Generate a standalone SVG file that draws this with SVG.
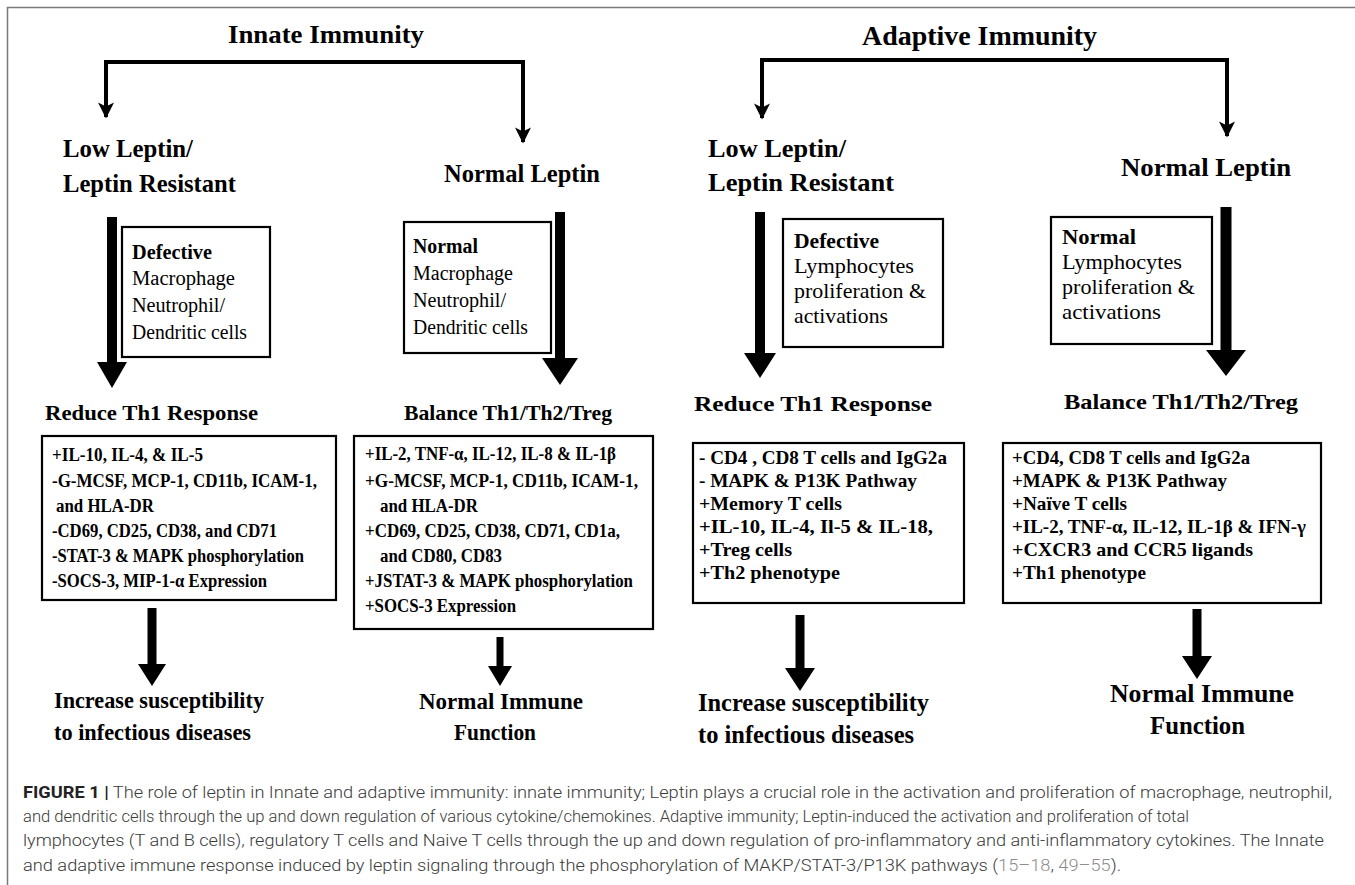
<svg xmlns="http://www.w3.org/2000/svg" width="1355" height="885" viewBox="0 0 1355 885">
<defs>
<style>
.t{font-family:"Liberation Serif","Times New Roman",serif;fill:#000}
.b{font-weight:bold}
.box{fill:#fff;stroke:#000;stroke-width:2.2}
.fat{fill:#000;stroke:none}
.ln{stroke:#000;stroke-width:4;fill:none}
.frame{stroke:#7a7a7a;stroke-width:1.5;fill:none}
.cap{font-family:Roboto,"Liberation Sans",Arial,sans-serif;font-size:16px;fill:#3a3a3a;font-weight:300}
.ref{fill:#8c8c8c}
</style>
<marker id="ah" viewBox="0 0 10 10" refX="9" refY="5" markerWidth="4.2" markerHeight="4" orient="auto">
<path d="M0,0 L10,5 L0,10 L2.5,5 z" fill="#000"/>
</marker>
</defs>
<rect x="0" y="0" width="1355" height="885" fill="#fff"/>
<path class="frame" d="M7.5,885 V7.5 H1355"/>

<g id="connectors">
<path class="ln" d="M106,62 H523" stroke-linecap="square"/>
<path class="ln" d="M106,62 V117" marker-end="url(#ah)"/>
<path class="ln" d="M523,62 V142" marker-end="url(#ah)"/>
<path class="ln" d="M762,60 H1227" stroke-linecap="square"/>
<path class="ln" d="M762,60 V118" marker-end="url(#ah)"/>
<path class="ln" d="M1227,60 V136" marker-end="url(#ah)"/>
<path class="fat" d="M107,217 H117 V362 H127 L112,388 L97,362 H107 Z"/>
<path class="fat" d="M555,212 H565 V358 H578 L560,385 L542,358 H555 Z"/>
<path class="fat" d="M147.5,608 H156.5 V664 H166 L152,686 L138,664 H147.5 Z"/>
<path class="fat" d="M496.5,637 H503.5 V666 H512 L500,686 L488,666 H496.5 Z"/>
<path class="fat" d="M755,212 H765 V353 H776 L760,378 L744,353 H755 Z"/>
<path class="fat" d="M1220.5,207 H1231.5 V350 H1246 L1226,376 L1206,350 H1220.5 Z"/>
<path class="fat" d="M795.5,615 H804.5 V668 H815 L800,691 L785,668 H795.5 Z"/>
<path class="fat" d="M1192.5,609 H1201.5 V656 H1212 L1197,679 L1182,656 H1192.5 Z"/>
</g>

<g id="innate-title"><text class="t b" font-size="26" x="228" y="43" textLength="196" lengthAdjust="spacingAndGlyphs">Innate Immunity</text></g>
<g id="innate-low"><text class="t b" font-size="26" x="63" y="157" textLength="130" lengthAdjust="spacingAndGlyphs">Low Leptin/</text><text class="t b" font-size="26" x="63" y="192" textLength="173" lengthAdjust="spacingAndGlyphs">Leptin Resistant</text></g>
<g id="innate-normal"><text class="t b" font-size="26" x="444" y="182" textLength="156" lengthAdjust="spacingAndGlyphs">Normal Leptin</text></g>

<g id="innate-defective">
<rect class="box" x="122" y="227" width="148" height="130"/>
<text class="t b" font-size="20" x="132" y="259" textLength="80" lengthAdjust="spacingAndGlyphs">Defective</text>
<text class="t" font-size="20" x="132" y="285" textLength="103" lengthAdjust="spacingAndGlyphs">Macrophage</text>
<text class="t" font-size="20" x="132" y="312" textLength="93" lengthAdjust="spacingAndGlyphs">Neutrophil/</text>
<text class="t" font-size="20" x="132" y="339" textLength="115" lengthAdjust="spacingAndGlyphs">Dendritic cells</text>
</g>
<g id="innate-normalcells">
<rect class="box" x="404" y="222" width="147" height="131"/>
<text class="t b" font-size="20" x="413" y="253" textLength="65" lengthAdjust="spacingAndGlyphs">Normal</text>
<text class="t" font-size="20" x="413" y="280" textLength="100" lengthAdjust="spacingAndGlyphs">Macrophage</text>
<text class="t" font-size="20" x="413" y="307" textLength="93" lengthAdjust="spacingAndGlyphs">Neutrophil/</text>
<text class="t" font-size="20" x="413" y="334" textLength="115" lengthAdjust="spacingAndGlyphs">Dendritic cells</text>
</g>

<g id="innate-reduce"><text class="t b" font-size="21" x="45" y="420" textLength="213" lengthAdjust="spacingAndGlyphs">Reduce Th1  Response</text></g>
<g id="innate-balance"><text class="t b" font-size="21" x="404" y="420" textLength="208" lengthAdjust="spacingAndGlyphs">Balance Th1/Th2/Treg</text></g>

<g id="innate-list-low">
<rect class="box" x="42" y="436" width="294" height="164"/>
<text class="t b" font-size="18" x="52" y="461" textLength="151" lengthAdjust="spacingAndGlyphs">+IL-10, IL-4, &amp; IL-5</text>
<text class="t b" font-size="18" x="52" y="487" textLength="265" lengthAdjust="spacingAndGlyphs">-G-MCSF, MCP-1, CD11b,  ICAM-1,</text>
<text class="t b" font-size="18" x="56" y="512" textLength="98" lengthAdjust="spacingAndGlyphs">and HLA-DR</text>
<text class="t b" font-size="18" x="52" y="537" textLength="225" lengthAdjust="spacingAndGlyphs">-CD69, CD25, CD38, and CD71</text>
<text class="t b" font-size="18" x="52" y="562" textLength="252" lengthAdjust="spacingAndGlyphs">-STAT-3 &amp; MAPK phosphorylation</text>
<text class="t b" font-size="18" x="52" y="587" textLength="215" lengthAdjust="spacingAndGlyphs">-SOCS-3, MIP-1-α Expression</text>
</g>
<g id="innate-list-normal">
<rect class="box" x="354" y="436" width="299" height="193"/>
<text class="t b" font-size="18" x="365" y="460" textLength="251" lengthAdjust="spacingAndGlyphs">+IL-2, TNF-α, IL-12, IL-8 &amp; IL-1β</text>
<text class="t b" font-size="18" x="365" y="487" textLength="273" lengthAdjust="spacingAndGlyphs">+G-MCSF, MCP-1, CD11b, ICAM-1,</text>
<text class="t b" font-size="18" x="380" y="512" textLength="98" lengthAdjust="spacingAndGlyphs">and HLA-DR</text>
<text class="t b" font-size="18" x="365" y="537" textLength="255" lengthAdjust="spacingAndGlyphs">+CD69, CD25, CD38, CD71, CD1a,</text>
<text class="t b" font-size="18" x="380" y="562" textLength="122" lengthAdjust="spacingAndGlyphs">and CD80, CD83</text>
<text class="t b" font-size="18" x="365" y="587" textLength="268" lengthAdjust="spacingAndGlyphs">+JSTAT-3 &amp; MAPK phosphorylation</text>
<text class="t b" font-size="18" x="365" y="612" textLength="151" lengthAdjust="spacingAndGlyphs">+SOCS-3 Expression</text>
</g>

<g id="innate-outcome-low"><text class="t b" font-size="23" x="54" y="708" textLength="210" lengthAdjust="spacingAndGlyphs">Increase susceptibility</text><text class="t b" font-size="23" x="54" y="740" textLength="197" lengthAdjust="spacingAndGlyphs">to infectious diseases</text></g>
<g id="innate-outcome-normal"><text class="t b" font-size="23" x="419" y="709" textLength="164" lengthAdjust="spacingAndGlyphs">Normal  Immune</text><text class="t b" font-size="23" x="454" y="740" textLength="82" lengthAdjust="spacingAndGlyphs">Function</text></g>

<g id="adaptive-title"><text class="t b" font-size="27" x="862" y="45" textLength="235" lengthAdjust="spacingAndGlyphs">Adaptive Immunity</text></g>
<g id="adaptive-low"><text class="t b" font-size="26" x="708" y="157" textLength="138" lengthAdjust="spacingAndGlyphs">Low Leptin/</text><text class="t b" font-size="26" x="708" y="191" textLength="186" lengthAdjust="spacingAndGlyphs">Leptin Resistant</text></g>
<g id="adaptive-normal"><text class="t b" font-size="26" x="1121" y="176" textLength="170" lengthAdjust="spacingAndGlyphs">Normal Leptin</text></g>

<g id="adaptive-defective">
<rect class="box" x="783" y="219" width="160" height="128"/>
<text class="t b" font-size="22" x="794" y="248" textLength="85" lengthAdjust="spacingAndGlyphs">Defective</text>
<text class="t" font-size="22" x="794" y="273" textLength="120" lengthAdjust="spacingAndGlyphs">Lymphocytes</text>
<text class="t" font-size="22" x="794" y="298" textLength="132" lengthAdjust="spacingAndGlyphs">proliferation &amp;</text>
<text class="t" font-size="22" x="794" y="323" textLength="94" lengthAdjust="spacingAndGlyphs">activations</text>
</g>
<g id="adaptive-normalcells">
<rect class="box" x="1051" y="217" width="161" height="127"/>
<text class="t b" font-size="22" x="1062" y="244" textLength="74" lengthAdjust="spacingAndGlyphs">Normal</text>
<text class="t" font-size="22" x="1062" y="269" textLength="120" lengthAdjust="spacingAndGlyphs">Lymphocytes</text>
<text class="t" font-size="22" x="1062" y="294" textLength="133" lengthAdjust="spacingAndGlyphs">proliferation &amp;</text>
<text class="t" font-size="22" x="1062" y="319" textLength="99" lengthAdjust="spacingAndGlyphs">activations</text>
</g>

<g id="adaptive-reduce"><text class="t b" font-size="22" x="694" y="411" textLength="238" lengthAdjust="spacingAndGlyphs">Reduce Th1  Response</text></g>
<g id="adaptive-balance"><text class="t b" font-size="22" x="1064" y="409" textLength="234" lengthAdjust="spacingAndGlyphs">Balance Th1/Th2/Treg</text></g>

<g id="adaptive-list-low">
<rect class="box" x="693" y="443" width="271" height="160"/>
<text class="t b" font-size="19" x="699" y="464" textLength="248" lengthAdjust="spacingAndGlyphs">- CD4 , CD8 T cells and IgG2a</text>
<text class="t b" font-size="19" x="699" y="487" textLength="218" lengthAdjust="spacingAndGlyphs">- MAPK &amp; P13K Pathway</text>
<text class="t b" font-size="19" x="699" y="510" textLength="143" lengthAdjust="spacingAndGlyphs">+Memory T cells</text>
<text class="t b" font-size="19" x="699" y="533" textLength="234" lengthAdjust="spacingAndGlyphs">+IL-10, IL-4,  Il-5 &amp; IL-18,</text>
<text class="t b" font-size="19" x="699" y="556" textLength="93" lengthAdjust="spacingAndGlyphs">+Treg cells</text>
<text class="t b" font-size="19" x="699" y="579" textLength="141" lengthAdjust="spacingAndGlyphs">+Th2 phenotype</text>
</g>
<g id="adaptive-list-normal">
<rect class="box" x="1003" y="443" width="318" height="160"/>
<text class="t b" font-size="19" x="1012" y="464" textLength="238" lengthAdjust="spacingAndGlyphs">+CD4, CD8 T cells and IgG2a</text>
<text class="t b" font-size="19" x="1012" y="487" textLength="215" lengthAdjust="spacingAndGlyphs">+MAPK &amp; P13K Pathway</text>
<text class="t b" font-size="19" x="1012" y="510" textLength="115" lengthAdjust="spacingAndGlyphs">+Naïve T cells</text>
<text class="t b" font-size="19" x="1012" y="533" textLength="294" lengthAdjust="spacingAndGlyphs">+IL-2, TNF-α, IL-12, IL-1β &amp; IFN-γ</text>
<text class="t b" font-size="19" x="1012" y="556" textLength="241" lengthAdjust="spacingAndGlyphs">+CXCR3 and CCR5 ligands</text>
<text class="t b" font-size="19" x="1012" y="579" textLength="134" lengthAdjust="spacingAndGlyphs">+Th1 phenotype</text>
</g>

<g id="adaptive-outcome-low"><text class="t b" font-size="25" x="698" y="711" textLength="231" lengthAdjust="spacingAndGlyphs">Increase susceptibility</text><text class="t b" font-size="25" x="698" y="743" textLength="216" lengthAdjust="spacingAndGlyphs">to infectious diseases</text></g>
<g id="adaptive-outcome-normal"><text class="t b" font-size="25" x="1110" y="702" textLength="184" lengthAdjust="spacingAndGlyphs">Normal  Immune</text><text class="t b" font-size="25" x="1150" y="734" textLength="95" lengthAdjust="spacingAndGlyphs">Function</text></g>

<g id="caption">
<text class="cap" x="23" y="798" textLength="1309" lengthAdjust="spacingAndGlyphs"><tspan font-weight="bold" fill="#222">FIGURE 1 |</tspan> The role of leptin in Innate and adaptive immunity: innate immunity; Leptin plays a crucial role in the activation and proliferation of macrophage, neutrophil,</text>
<text class="cap" x="23" y="822" textLength="1166" lengthAdjust="spacingAndGlyphs">and dendritic cells through the up and down regulation of various cytokine/chemokines. Adaptive immunity; Leptin-induced the activation and proliferation of total</text>
<text class="cap" x="23" y="846" textLength="1301" lengthAdjust="spacingAndGlyphs">lymphocytes (T and B cells), regulatory T cells and Naive T cells through the up and down regulation of pro-inflammatory and anti-inflammatory cytokines. The Innate</text>
<text class="cap" x="23" y="871" textLength="1098" lengthAdjust="spacingAndGlyphs">and adaptive immune response induced by leptin signaling through the phosphorylation of MAKP/STAT-3/P13K pathways (<tspan class="ref">15–18</tspan>, <tspan class="ref">49–55</tspan>).</text>
</g>
</svg>
